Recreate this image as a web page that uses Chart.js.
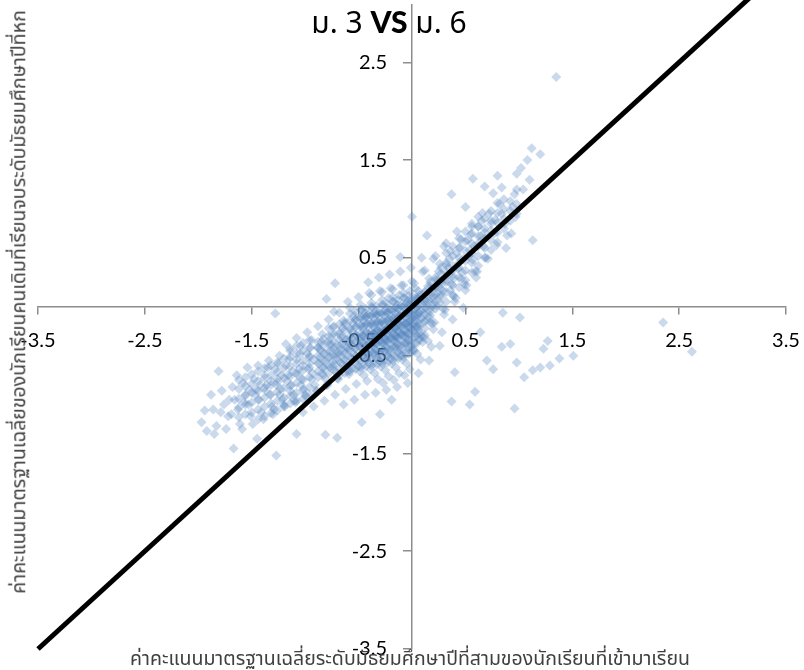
<!DOCTYPE html>
<html><head><meta charset="utf-8">
<script src="https://cdn.jsdelivr.net/npm/chart.js@4.4.1/dist/chart.umd.min.js"></script>
<style>
html,body{margin:0;padding:0;background:#fff;}
#wrap{position:relative;width:804px;height:670px;overflow:hidden;}
canvas{position:absolute;left:0;top:0;}
.t{position:absolute;white-space:nowrap;font-family:'Noto Sans Thai','Tahoma','DejaVu Sans',sans-serif;line-height:1;}
#title{left:389px;top:22px;transform:translate(-50%,-50%);font-size:30px;color:#000;}
#title b{font-family:'Lato',sans-serif;font-weight:900;}
#xt{left:410px;top:660px;transform:translate(-50%,-50%);font-size:19.5px;color:#404040;}
#yt{left:20px;top:302px;transform:translate(-50%,-50%) rotate(-90deg);font-size:19.5px;color:#404040;}
</style></head><body>
<div id="wrap">
<canvas id="c" width="804" height="670"></canvas>
<div class="t" id="title">ม. 3 <b>VS</b> ม. 6</div>
<div class="t" id="xt">ค่าคะแนนมาตรฐานเฉลี่ยระดับมัธยมศึกษาปีที่สามของนักเรียนที่เข้ามาเรียน</div>
<div class="t" id="yt">ค่าคะแนนมาตรฐานเฉลี่ยของนักเรียนคนเดิมที่เรียนจบระดับมัธยมศึกษาปีที่หก</div>
</div>
<script>
const xTicks = [-3.5,-2.5,-1.5,-0.5,0.5,1.5,2.5,3.5];
const yTicks = [-3.5,-2.5,-1.5,-0.5,0.5,1.5,2.5];
const diagonalLine = [[-3.5,-3.5],[3.5,3.5]];

const lowerTail = [
[-1.94,-1.06],[-1.92,-1.27],[-1.97,-1.18],
[-1.86,-1.05],[-1.83,-1.22],[-1.88,-0.9],[-1.81,-0.66],[-1.85,-1.3],
[-1.76,-1.0],[-1.72,-1.12],[-1.78,-0.86],[-1.74,-1.25],[-1.71,-0.95],[-1.79,-1.08],
[-1.66,-0.95],[-1.63,-1.05],[-1.68,-0.82],[-1.61,-1.2],[-1.67,-1.45],[-1.64,-0.7],[-1.69,-1.1],
[-1.56,-0.9],[-1.53,-1.0],[-1.58,-0.78],[-1.51,-1.12],[-1.54,-0.62],[-1.59,-1.25],[-1.52,-0.85],[-1.57,-0.98],
[-1.46,-0.85],[-1.43,-0.95],[-1.48,-0.74],[-1.41,-1.08],[-1.44,-0.6],[-1.49,-1.2],[-1.42,-0.8],[-1.47,-0.9],[-1.45,-1.35],
[-1.36,-0.8],[-1.33,-0.9],[-1.38,-0.7],[-1.31,-1.02],[-1.34,-0.55],[-1.39,-1.15],[-1.32,-0.76],[-1.37,-0.86],[-1.35,-0.62],[-1.3,-1.1],
[-1.26,-0.74],[-1.23,-0.84],[-1.28,-0.64],[-1.21,-0.95],[-1.24,-0.5],[-1.29,-1.05],[-1.22,-0.7],[-1.27,-0.8],[-1.25,-0.58],[-1.2,-1.0],[-1.24,-0.9],
[-1.16,-0.7],[-1.13,-0.8],[-1.18,-0.6],[-1.11,-0.9],[-1.14,-0.45],[-1.19,-1.02],[-1.12,-0.66],[-1.17,-0.76],[-1.15,-0.54],[-1.1,-0.96],[-1.14,-0.86],[-1.18,-0.38],
[-1.06,-0.64],[-1.03,-0.74],[-1.08,-0.54],[-1.01,-0.85],[-1.04,-0.4],[-1.09,-0.98],[-1.02,-0.6],[-1.07,-0.7],[-1.05,-0.48],[-1.0,-0.9],[-1.04,-0.8],[-1.08,-0.32],[-1.02,-1.08]
];

const lowerBand = [
[-1.62,-1.13],[-1.62,-1.03],[-1.62,-0.94],[-1.62,-0.84],[-1.62,-0.75],
[-1.56,-1.1],[-1.56,-1.0],[-1.56,-0.91],[-1.56,-0.81],[-1.56,-0.72],
[-1.5,-1.08],[-1.5,-0.98],[-1.5,-0.88],[-1.5,-0.79],[-1.5,-0.69],
[-1.44,-1.05],[-1.44,-0.95],[-1.44,-0.86],[-1.44,-0.76],[-1.44,-0.66],[-1.44,-1.15],
[-1.38,-1.02],[-1.38,-0.93],[-1.38,-0.83],[-1.38,-0.73],[-1.38,-0.63],[-1.38,-1.12],
[-1.32,-0.99],[-1.32,-0.9],[-1.32,-0.8],[-1.32,-0.7],[-1.32,-0.6],[-1.32,-1.09],
[-1.26,-0.96],[-1.26,-0.87],[-1.26,-0.77],[-1.26,-0.67],[-1.26,-0.57],[-1.26,-1.06],
[-1.2,-0.93],[-1.2,-0.83],[-1.2,-0.73],[-1.2,-0.63],[-1.2,-0.53],[-1.2,-1.02],
[-1.14,-0.91],[-1.14,-0.81],[-1.14,-0.71],[-1.14,-0.61],[-1.14,-0.51],[-1.14,-0.99],[-1.14,-0.43],
[-1.08,-0.88],[-1.08,-0.78],[-1.08,-0.68],[-1.08,-0.58],[-1.08,-0.48],[-1.08,-0.96],[-1.08,-0.4],
[-1.02,-0.85],[-1.02,-0.75],[-1.02,-0.65],[-1.02,-0.55],[-1.02,-0.45],[-1.02,-0.94],[-1.02,-0.37],
[-0.96,-0.82],[-0.96,-0.72],[-0.96,-0.62],[-0.96,-0.52],[-0.96,-0.42],[-0.96,-0.9],[-0.96,-0.34]
];

const centralCloud = [
[-0.96,-0.58],[-0.93,-0.68],[-0.98,-0.48],[-0.91,-0.8],[-0.94,-0.34],[-0.99,-0.92],[-0.92,-0.54],[-0.97,-0.64],[-0.95,-0.42],[-0.9,-0.86],[-0.94,-0.74],[-0.98,-0.26],[-0.92,-1.02],[-0.96,-0.5],
[-0.86,-0.52],[-0.83,-0.62],[-0.88,-0.42],[-0.81,-0.74],[-0.84,-0.28],[-0.89,-0.86],[-0.82,-0.48],[-0.87,-0.58],[-0.85,-0.36],[-0.8,-0.8],[-0.84,-0.68],[-0.88,-0.2],[-0.82,-0.96],[-0.86,-0.44],[-0.81,-0.56],[-0.8,0.08],
[-0.76,-0.45],[-0.73,-0.55],[-0.78,-0.35],[-0.71,-0.67],[-0.74,-0.21],[-0.79,-0.8],[-0.72,-0.41],[-0.77,-0.51],[-0.75,-0.29],[-0.7,-0.73],[-0.74,-0.61],[-0.78,-0.13],[-0.72,-0.9],[-0.76,-0.38],[-0.71,-0.49],[-0.72,0.24],[-0.77,-0.62],[-0.73,-0.05],
[-0.66,-0.38],[-0.63,-0.48],[-0.68,-0.28],[-0.61,-0.6],[-0.64,-0.14],[-0.69,-0.74],[-0.62,-0.34],[-0.67,-0.44],[-0.65,-0.22],[-0.6,-0.66],[-0.64,-0.54],[-0.68,-0.06],[-0.62,-0.84],[-0.66,-0.31],[-0.61,-0.42],[-0.67,-0.57],[-0.63,-0.18],[-0.69,-0.49],[-0.6,0.05],[-0.64,-1.0],
[-0.56,-0.33],[-0.53,-0.43],[-0.58,-0.23],[-0.51,-0.55],[-0.54,-0.09],[-0.59,-0.69],[-0.52,-0.29],[-0.57,-0.39],[-0.55,-0.17],[-0.5,-0.61],[-0.54,-0.49],[-0.58,-0.01],[-0.52,-0.79],[-0.56,-0.26],[-0.51,-0.37],[-0.57,-0.52],[-0.53,-0.13],[-0.59,-0.44],[-0.5,0.1],[-0.54,-0.95],[-0.56,-0.63],[-0.52,-0.2],[-0.58,-0.34],[-0.47,-1.18],
[-0.46,-0.3],[-0.43,-0.4],[-0.48,-0.2],[-0.41,-0.52],[-0.44,-0.06],[-0.49,-0.66],[-0.42,-0.26],[-0.47,-0.36],[-0.45,-0.14],[-0.4,-0.58],[-0.44,-0.46],[-0.48,0.02],[-0.42,-0.76],[-0.46,-0.23],[-0.41,-0.34],[-0.47,-0.49],[-0.43,-0.1],[-0.49,-0.41],[-0.4,0.14],[-0.44,-0.9],[-0.46,-0.6],[-0.42,-0.17],[-0.48,-0.31],[-0.45,-0.7],[-0.41,0.25],[-0.47,-0.03],[-0.43,-0.55],[-0.49,-0.12],
[-0.36,-0.28],[-0.33,-0.38],[-0.38,-0.18],[-0.31,-0.5],[-0.34,-0.04],[-0.39,-0.64],[-0.32,-0.24],[-0.37,-0.34],[-0.35,-0.12],[-0.3,-0.56],[-0.34,-0.44],[-0.38,0.04],[-0.32,-0.74],[-0.36,-0.21],[-0.31,-0.32],[-0.37,-0.47],[-0.33,-0.08],[-0.39,-0.39],[-0.3,0.16],[-0.34,-0.88],[-0.36,-0.58],[-0.32,-0.15],[-0.38,-0.29],[-0.35,-0.68],[-0.31,0.3],[-0.37,-0.01],[-0.33,-0.53],[-0.39,-0.1],[-0.34,-0.26],[-0.36,-0.4],[-0.31,-0.2],[-0.38,0.12],
[-0.26,-0.25],[-0.23,-0.35],[-0.28,-0.15],[-0.21,-0.47],[-0.24,-0.01],[-0.29,-0.61],[-0.22,-0.21],[-0.27,-0.31],[-0.25,-0.09],[-0.2,-0.53],[-0.24,-0.41],[-0.28,0.07],[-0.22,-0.71],[-0.26,-0.18],[-0.21,-0.29],[-0.27,-0.44],[-0.23,-0.05],[-0.29,-0.36],[-0.2,0.19],[-0.24,-0.85],[-0.26,-0.55],[-0.22,-0.12],[-0.28,-0.26],[-0.25,-0.65],[-0.21,0.33],[-0.27,0.02],[-0.23,-0.5],[-0.29,-0.07],[-0.24,-0.23],[-0.26,-0.37],[-0.21,-0.17],[-0.28,0.15],[-0.23,-0.28],[-0.27,-0.78],[-0.22,0.09],[-0.25,-0.33],
[-0.16,-0.22],[-0.13,-0.32],[-0.18,-0.12],[-0.11,-0.44],[-0.14,0.02],[-0.19,-0.58],[-0.12,-0.18],[-0.17,-0.28],[-0.15,-0.06],[-0.1,-0.5],[-0.14,-0.38],[-0.18,0.1],[-0.12,-0.68],[-0.16,-0.15],[-0.11,-0.26],[-0.17,-0.41],[-0.13,-0.02],[-0.19,-0.33],[-0.1,0.22],[-0.14,-0.82],[-0.16,-0.52],[-0.12,-0.09],[-0.18,-0.23],[-0.15,-0.62],[-0.11,0.36],[-0.17,0.05],[-0.13,-0.47],[-0.19,-0.04],[-0.14,-0.2],[-0.16,-0.34],[-0.11,-0.14],[-0.18,0.18],[-0.13,-0.25],[-0.17,-0.75],[-0.12,0.12],[-0.15,-0.3],[-0.11,0.51],[-0.19,-0.95],
[-0.06,-0.18],[-0.03,-0.28],[-0.08,-0.08],[-0.01,-0.4],[-0.04,0.06],[-0.09,-0.54],[-0.02,-0.14],[-0.07,-0.24],[-0.05,-0.02],[0.0,-0.46],[-0.04,-0.34],[-0.08,0.14],[-0.02,-0.64],[-0.06,-0.11],[-0.01,-0.22],[-0.07,-0.37],[-0.03,0.02],[-0.09,-0.29],[0.0,0.26],[-0.04,-0.78],[-0.06,-0.48],[-0.02,-0.05],[-0.08,-0.19],[-0.05,-0.58],[-0.01,0.4],[-0.07,0.09],[-0.03,-0.43],[-0.09,0.0],[-0.04,-0.16],[-0.06,-0.3],[-0.01,-0.1],[-0.08,0.22],[-0.03,-0.21],[-0.07,-0.7],[-0.02,0.16],[0.0,0.92],
[0.04,-0.08],[0.07,-0.18],[0.02,0.02],[0.09,-0.3],[0.06,0.16],[0.01,-0.44],[0.08,-0.04],[0.03,-0.14],[0.05,0.08],[0.1,-0.36],[0.06,-0.24],[0.02,0.24],[0.08,-0.54],[0.04,-0.01],[0.09,-0.12],[0.03,-0.27],[0.07,0.12],[0.01,-0.19],[0.1,0.36],[0.06,-0.68],[0.04,-0.38],[0.08,0.05],[0.02,-0.09],[0.05,-0.48],[0.09,0.5],[0.03,0.19],[0.07,-0.33],[0.01,0.1],[0.06,-0.06],[0.04,-0.2],
[0.14,0.05],[0.17,-0.05],[0.12,0.15],[0.19,-0.17],[0.16,0.29],[0.11,-0.31],[0.18,0.09],[0.13,-0.01],[0.15,0.21],[0.2,-0.23],[0.16,-0.11],[0.12,0.37],[0.18,-0.41],[0.14,0.12],[0.19,0.01],[0.13,-0.14],[0.17,0.25],[0.11,-0.06],[0.2,0.49],[0.16,-0.55],[0.14,0.73],[0.18,0.18],[0.12,0.04],[0.15,-0.35],
[0.24,0.2],[0.27,0.1],[0.22,0.3],[0.29,-0.02],[0.26,0.44],[0.21,-0.16],[0.28,0.24],[0.23,0.14],[0.25,0.36],[0.3,-0.08],[0.26,0.04],[0.22,0.52],[0.28,-0.26],[0.24,0.27],[0.29,0.16],[0.23,0.01],[0.27,0.4],[0.21,0.09],[0.3,0.62],[0.26,-0.4]
];

const denseCore = [
[-0.88,-0.42],[-0.88,-0.5],[-0.88,-0.58],[-0.88,-0.66],[-0.88,-0.36],[-0.88,-0.72],
[-0.83,-0.4],[-0.83,-0.47],[-0.83,-0.55],[-0.83,-0.63],[-0.83,-0.33],[-0.83,-0.7],
[-0.78,-0.38],[-0.78,-0.45],[-0.78,-0.52],[-0.78,-0.6],[-0.78,-0.3],[-0.78,-0.68],[-0.78,-0.22],
[-0.73,-0.36],[-0.73,-0.43],[-0.73,-0.5],[-0.73,-0.58],[-0.73,-0.28],[-0.73,-0.65],[-0.73,-0.2],
[-0.68,-0.34],[-0.68,-0.41],[-0.68,-0.48],[-0.68,-0.56],[-0.68,-0.26],[-0.68,-0.63],[-0.68,-0.18],[-0.68,-0.7],
[-0.63,-0.32],[-0.63,-0.39],[-0.63,-0.46],[-0.63,-0.54],[-0.63,-0.24],[-0.63,-0.61],[-0.63,-0.16],[-0.63,-0.68],
[-0.58,-0.3],[-0.58,-0.37],[-0.58,-0.44],[-0.58,-0.52],[-0.58,-0.22],[-0.58,-0.59],[-0.58,-0.14],[-0.58,-0.66],[-0.58,-0.07],
[-0.53,-0.29],[-0.53,-0.36],[-0.53,-0.43],[-0.53,-0.5],[-0.53,-0.21],[-0.53,-0.57],[-0.53,-0.13],[-0.53,-0.64],[-0.53,-0.05],
[-0.48,-0.27],[-0.48,-0.34],[-0.48,-0.41],[-0.48,-0.48],[-0.48,-0.19],[-0.48,-0.55],[-0.48,-0.11],[-0.48,-0.62],[-0.48,-0.03],
[-0.43,-0.26],[-0.43,-0.33],[-0.43,-0.4],[-0.43,-0.47],[-0.43,-0.18],[-0.43,-0.54],[-0.43,-0.1],[-0.43,-0.61],[-0.43,-0.02],
[-0.38,-0.25],[-0.38,-0.32],[-0.38,-0.39],[-0.38,-0.46],[-0.38,-0.17],[-0.38,-0.53],[-0.38,-0.09],[-0.38,-0.6],[-0.38,0.0],
[-0.33,-0.24],[-0.33,-0.31],[-0.33,-0.38],[-0.33,-0.45],[-0.33,-0.16],[-0.33,-0.52],[-0.33,-0.08],[-0.33,-0.59],[-0.33,0.01],
[-0.28,-0.23],[-0.28,-0.3],[-0.28,-0.37],[-0.28,-0.44],[-0.28,-0.15],[-0.28,-0.51],[-0.28,-0.07],[-0.28,-0.58],[-0.28,0.02],
[-0.23,-0.22],[-0.23,-0.29],[-0.23,-0.36],[-0.23,-0.43],[-0.23,-0.14],[-0.23,-0.5],[-0.23,-0.06],[-0.23,-0.57],[-0.23,0.03],
[-0.18,-0.2],[-0.18,-0.27],[-0.18,-0.34],[-0.18,-0.41],[-0.18,-0.12],[-0.18,-0.48],[-0.18,-0.04],[-0.18,-0.55],[-0.18,0.05],
[-0.13,-0.18],[-0.13,-0.25],[-0.13,-0.32],[-0.13,-0.39],[-0.13,-0.1],[-0.13,-0.46],[-0.13,-0.02],[-0.13,-0.53],[-0.13,0.07],
[-0.08,-0.16],[-0.08,-0.23],[-0.08,-0.3],[-0.08,-0.37],[-0.08,-0.08],[-0.08,-0.44],[-0.08,0.0],[-0.08,-0.51],[-0.08,0.09],
[-0.03,-0.13],[-0.03,-0.2],[-0.03,-0.27],[-0.03,-0.34],[-0.03,-0.05],[-0.03,-0.41],[-0.03,0.03],[-0.03,-0.48],[-0.03,0.11],
[0.02,-0.1],[0.02,-0.17],[0.02,-0.24],[0.02,-0.31],[0.02,-0.02],[0.02,-0.38],[0.02,0.06],[0.02,-0.45],
[0.07,-0.06],[0.07,-0.13],[0.07,-0.2],[0.07,-0.27],[0.07,0.02],[0.07,-0.34],[0.07,0.1],
[0.12,-0.01],[0.12,-0.08],[0.12,-0.15],[0.12,-0.22],[0.12,0.07],[0.12,-0.29],[0.12,0.15],
[0.17,0.05],[0.17,-0.02],[0.17,-0.09],[0.17,0.13],[0.17,-0.16],[0.17,0.21],
[0.22,0.12],[0.22,0.05],[0.22,-0.02],[0.22,0.2],[0.22,0.28],
[0.27,0.19],[0.27,0.12],[0.27,0.26],[0.27,0.34]
];

const innerCore = [
[-0.455,-0.4],[-0.455,-0.3],[-0.455,-0.2],[-0.455,-0.1],[-0.455,-0.5],
[-0.405,-0.38],[-0.405,-0.28],[-0.405,-0.18],[-0.405,-0.08],[-0.405,-0.48],
[-0.355,-0.37],[-0.355,-0.27],[-0.355,-0.17],[-0.355,-0.07],[-0.355,-0.47],
[-0.305,-0.36],[-0.305,-0.26],[-0.305,-0.16],[-0.305,-0.06],[-0.305,-0.46],
[-0.255,-0.35],[-0.255,-0.25],[-0.255,-0.15],[-0.255,-0.05],[-0.255,-0.45],
[-0.205,-0.33],[-0.205,-0.23],[-0.205,-0.13],[-0.205,-0.03],[-0.205,-0.43],
[-0.155,-0.31],[-0.155,-0.21],[-0.155,-0.11],[-0.155,-0.01],[-0.155,-0.41],
[-0.105,-0.29],[-0.105,-0.19],[-0.105,-0.09],[-0.105,0.01],[-0.105,-0.39],
[-0.055,-0.27],[-0.055,-0.17],[-0.055,-0.07],[-0.055,0.03],[-0.055,-0.37],
[-0.005,-0.24],[-0.005,-0.14],[-0.005,-0.04],[-0.005,0.06],[-0.005,-0.34],
[0.045,-0.2],[0.045,-0.1],[0.045,0.0],[0.045,0.1],[0.045,-0.3]
];

const upperBand = [
[0.32,0.05],[0.32,0.15],[0.32,0.25],[0.32,0.35],[0.32,0.45],[0.32,0.55],
[0.38,0.12],[0.38,0.22],[0.38,0.32],[0.38,0.42],[0.38,0.52],[0.38,0.62],
[0.44,0.2],[0.44,0.3],[0.44,0.4],[0.44,0.5],[0.44,0.6],[0.44,0.7],
[0.5,0.27],[0.5,0.37],[0.5,0.47],[0.5,0.57],[0.5,0.67],[0.5,0.77],
[0.56,0.35],[0.56,0.45],[0.56,0.55],[0.56,0.65],[0.56,0.75],[0.56,0.85],
[0.62,0.42],[0.62,0.52],[0.62,0.62],[0.62,0.72],[0.62,0.82],[0.62,0.92],
[0.68,0.5],[0.68,0.6],[0.68,0.7],[0.68,0.8],[0.68,0.9],
[0.74,0.58],[0.74,0.68],[0.74,0.78],[0.74,0.88],[0.74,0.98],
[0.8,0.66],[0.8,0.76],[0.8,0.86],[0.8,0.96],[0.8,1.06],
[0.86,0.8],[0.86,0.9],[0.86,1.0],[0.86,1.1],
[0.92,0.88],[0.92,0.98],[0.92,1.08],
[0.98,0.95],[0.98,1.05],[0.98,1.2]
];

const upperTail = [
[0.34,0.33],[0.37,0.23],[0.32,0.43],[0.39,0.11],[0.36,0.57],[0.31,-0.03],[0.38,0.37],[0.33,0.27],[0.35,0.49],[0.4,0.05],[0.36,0.17],[0.32,0.65],[0.38,-0.13],[0.34,0.4],[0.39,0.29],[0.37,1.15],[0.37,-0.97],
[0.44,0.45],[0.47,0.35],[0.42,0.55],[0.49,0.23],[0.46,0.69],[0.41,0.09],[0.48,0.49],[0.43,0.39],[0.45,0.61],[0.5,0.17],[0.46,0.29],[0.42,0.77],[0.48,-0.01],[0.4,-0.67],[0.5,1.02],
[0.54,0.58],[0.57,0.48],[0.52,0.68],[0.59,0.36],[0.56,0.82],[0.51,0.22],[0.58,0.62],[0.53,0.52],[0.55,0.74],[0.6,0.3],[0.57,1.31],[0.54,-1.0],[0.59,-0.87],
[0.64,0.72],[0.67,0.62],[0.62,0.82],[0.69,0.5],[0.66,0.96],[0.61,0.36],[0.68,0.76],[0.63,0.66],[0.65,0.88],[0.68,1.23],[0.64,-0.26],
[0.74,0.85],[0.77,0.75],[0.72,0.95],[0.79,0.63],[0.76,1.16],[0.71,0.49],[0.78,0.89],[0.76,-0.64],[0.8,1.34],
[0.84,0.95],[0.87,0.85],[0.82,1.05],[0.89,0.73],[0.84,1.22],[0.85,-0.06],[0.88,0.6],
[0.94,1.02],[0.97,0.92],[0.93,0.75],[0.98,1.36],[0.96,1.15],[0.98,-0.57],[0.92,-0.38],[0.96,-1.04],
[1.04,1.2],[1.08,1.5],[1.02,1.42],[1.12,1.62],[1.2,1.56],[1.13,0.68],[1.1,1.3]
];

const strayPoints = [
[1.35,2.35],[1.01,-0.11],[1.13,-0.65],[1.2,-0.62],[1.29,-0.6],[1.38,-0.53],[1.51,-0.5],[1.23,-0.43],[1.27,-0.35],[1.05,-0.72],
[2.35,-0.16],[2.62,-0.46],[0.84,-0.41],[0.7,-0.55],[-0.81,-1.31],[-1.08,-1.3],[-0.7,-1.34],[-0.3,-1.1],[-1.27,-1.52],[-1.28,-0.07]
];

const toXY = arr => arr.map(([x, y]) => ({x, y}));
const scatterData = toXY([...lowerTail, ...lowerBand, ...centralCloud, ...denseCore, ...innerCore, ...upperBand, ...upperTail, ...strayPoints]);

const zeroPadding = s => { s.paddingTop = 0; s.paddingBottom = 0; s.paddingLeft = 0; s.paddingRight = 0; };
const axisColor = '#8c8c8c';
const Y_LABEL_GAP = 25;

const shiftYLabels = {
  id: 'shiftYLabels',
  afterLayout(chart) {
    const s = chart.scales.y;
    s.getLabelItems().forEach(it => { it.options.translation[0] -= Y_LABEL_GAP; });
  }
};

new Chart(document.getElementById('c'), {
  type: 'scatter',
  data: {
    datasets: [
      {
        type: 'line',
        label: 'y = x',
        data: toXY(diagonalLine),
        borderColor: '#000',
        borderWidth: 5,
        pointRadius: 0,
        fill: false,
        clip: false,
        order: 0
      },
      {
        label: 'students',
        data: scatterData,
        pointStyle: 'rectRot',
        pointRadius: 5,
        pointHoverRadius: 5,
        backgroundColor: 'rgba(79,129,189,0.3)',
        borderWidth: 0,
        order: 1
      }
    ]
  },
  plugins: [shiftYLabels],
  options: {
    responsive: false,
    animation: false,
    events: [],
    layout: { padding: { left: 38, right: 18, top: 0, bottom: 21 } },
    plugins: { legend: { display: false }, tooltip: { enabled: false }, title: { display: false } },
    scales: {
      x: {
        type: 'linear',
        position: { y: 0 },
        min: -3.5, max: 3.5,
        afterBuildTicks: a => { a.ticks = xTicks.map(v => ({value: v})); },
        afterFit: zeroPadding,
        grid: { drawOnChartArea: false, drawTicks: true, tickLength: 7, color: axisColor, lineWidth: 1.5 },
        border: { color: axisColor, width: 1.5 },
        ticks: { padding: 15, color: '#000', font: { family: 'Lato', size: 20 }, maxRotation: 0, autoSkip: false, callback: v => String(v) }
      },
      y: {
        type: 'linear',
        position: { x: 0 },
        min: -3.5, max: 3.086,
        afterBuildTicks: a => { a.ticks = yTicks.map(v => ({value: v})); },
        afterFit: zeroPadding,
        grid: { drawOnChartArea: false, drawTicks: true, tickLength: 8, color: axisColor, lineWidth: 1.5 },
        border: { color: axisColor, width: 1.5 },
        ticks: { padding: 17, color: '#000', font: { family: 'Lato', size: 20 }, autoSkip: false, callback: v => String(v) }
      }
    }
  }
});
</script>
</body></html>
